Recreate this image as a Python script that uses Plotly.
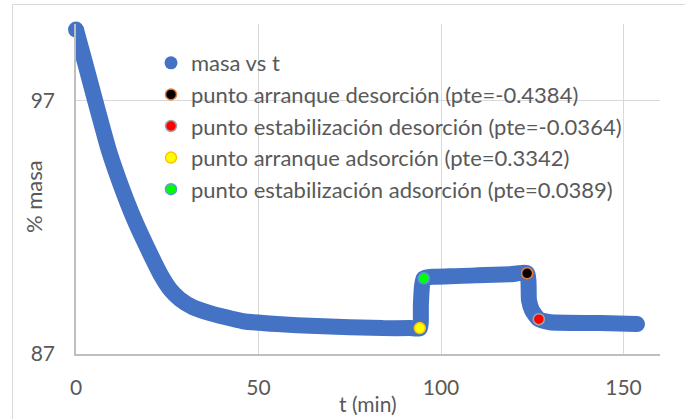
import plotly.graph_objects as go

# mass curve (t in min, % mass)
t_min = [0.0, 2.60, 5.21, 9.04, 12.33, 15.07, 17.81, 20.55, 23.29, 25.75, 28.49, 32.05,
         36.71, 45.75, 55.07, 66.0, 84.1, 91.5, 94.2, 94.5, 95.3, 102.5, 110.0,
         118.9, 123.6, 124.1, 124.9, 126.8, 129.9, 143.6, 153.7]
masa = [99.78, 98.41, 97.0, 95.0, 93.63, 92.61, 91.71, 90.88, 90.10, 89.55, 89.16, 88.84,
        88.61, 88.29, 88.18, 88.10, 88.02, 88.02, 88.02, 89.0, 89.98,
        90.06, 90.10, 90.14, 90.18, 89.12, 88.73, 88.37, 88.25, 88.22, 88.18]

# reference points on the curve
pt_names = ["punto arranque desorción (pte=-0.4384)",
            "punto estabilización desorción (pte=-0.0364)",
            "punto arranque adsorción (pte=0.3342)",
            "punto estabilización adsorción (pte=0.0389)"]
pt_t = [123.6, 126.8, 94.2, 95.3]
pt_masa = [90.18, 88.37, 88.02, 89.98]
pt_fill = ["#000000", "#FF0000", "#FFFF00", "#00FF00"]
pt_edge = ["#ED7D31", "#A5A5A5", "#FFC000", "#5B9BD5"]

x_ticks = [0, 50, 100, 150]
y_ticks = [87, 97]

BLUE = "#4472C4"
GREY_TXT = "#595959"
FONT = "Lato"
W, H = 685, 419
ML, MR, MT, MB = 76, 25, 24, 65
pw = W - ML - MR
ph = H - MT - MB


def px_to_paper(x, y):
    return (x - ML) / pw, (H - MB - y) / ph


fig = go.Figure()

fig.add_trace(go.Scatter(
    x=t_min, y=masa, mode="lines",
    line=dict(color=BLUE, width=16, shape="spline", smoothing=0.5),
    showlegend=False, cliponaxis=False, hoverinfo="x+y"))

# round ends of the thick curve
fig.add_trace(go.Scatter(
    x=[t_min[0], t_min[-1]], y=[masa[0], masa[-1]], mode="markers",
    marker=dict(color=BLUE, size=16), showlegend=False, cliponaxis=False,
    hoverinfo="skip"))

fig.add_trace(go.Scatter(
    x=[None], y=[None], mode="markers", name="masa vs t",
    marker=dict(color=BLUE, size=13), legendgroup="g0"))

for i in range(len(pt_names)):
    fig.add_trace(go.Scatter(
        x=[pt_t[i]], y=[pt_masa[i]], mode="markers", name=pt_names[i],
        marker=dict(color=pt_fill[i], size=11, line=dict(color=pt_edge[i], width=1.5)),
        legendgroup=f"g{i+1}", cliponaxis=False))

# chart frame
x0, y0 = px_to_paper(12.5, 4.5)
x1, y1 = px_to_paper(720, 440)
fig.add_shape(type="rect", xref="paper", yref="paper", x0=x0, y0=y1, x1=x1, y1=y0,
              line=dict(color="#D9D9D9", width=1), fillcolor="rgba(0,0,0,0)", layer="below")

axis_common = dict(showline=True, linecolor="#BFBFBF", linewidth=1.5, gridcolor="#D9D9D9",
                   gridwidth=1, zeroline=False, ticks="",
                   tickfont=dict(family=FONT, size=21, color=GREY_TXT))

fig.update_xaxes(range=[0, 160], tickvals=x_ticks, ticklabelstandoff=14, **axis_common)
fig.update_yaxes(range=[87, 100], tickvals=y_ticks, ticklabelstandoff=15, **axis_common)

tx, ty = px_to_paper(368, 403)
fig.add_annotation(text="t (min)", xref="paper", yref="paper", x=tx, y=ty,
                   xanchor="center", yanchor="middle", showarrow=False,
                   font=dict(family=FONT, size=21, color=GREY_TXT))
yx, yy = px_to_paper(34, 197)
fig.add_annotation(text="% masa", xref="paper", yref="paper", x=yx, y=yy, textangle=-90,
                   xanchor="center", yanchor="middle", showarrow=False,
                   font=dict(family=FONT, size=22, color=GREY_TXT))

lx, ly = px_to_paper(151, 42)
fig.update_layout(
    width=W, height=H, margin=dict(l=ML, r=MR, t=MT, b=MB),
    paper_bgcolor="white", plot_bgcolor="white",
    font=dict(family=FONT, color=GREY_TXT),
    legend=dict(x=lx, y=ly, xanchor="left", yanchor="top",
                bgcolor="rgba(0,0,0,0)", font=dict(family=FONT, size=22, color=GREY_TXT),
                traceorder="grouped", tracegroupgap=0, itemsizing="trace"),
)

fig.write_html("out.html")
